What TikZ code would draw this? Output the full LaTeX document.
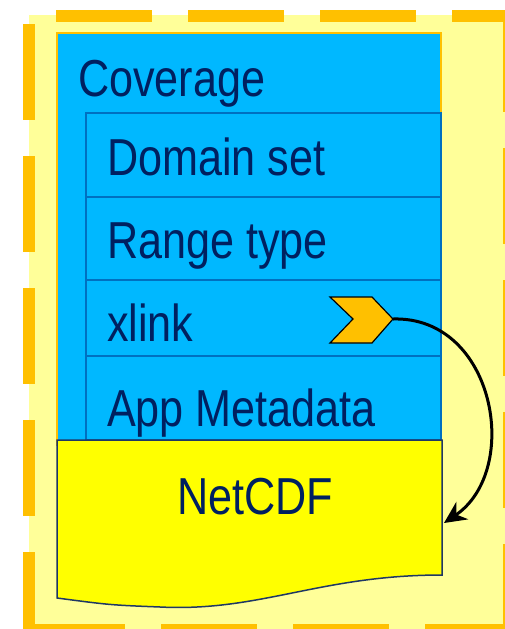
\documentclass[tikz,border=0pt]{standalone}
\usepackage{fontspec}
\setmainfont{Liberation Sans}
\usetikzlibrary{arrows.meta}
\definecolor{lightyel}{HTML}{FFFF99}
\definecolor{gold}{HTML}{FFC000}
\definecolor{bluefill}{HTML}{00B8FF}
\definecolor{rowline}{HTML}{0070C0}
\definecolor{navy}{HTML}{002060}
\definecolor{docyel}{HTML}{FFFF00}
\definecolor{docline}{HTML}{1F3864}
\newcommand\sqz[1]{\scalebox{0.83}[1]{#1}}
\tikzset{
  frameline/.style={draw=gold, line width=12pt, dash pattern=on 96pt off 36pt},
  coverbox/.style={fill=bluefill, draw=gold, line width=1.5pt},
  rowbox/.style={fill=bluefill, draw=rowline, line width=1.2pt},
  lbl/.style={font=\fontsize{52}{60}\selectfont, text=navy, inner sep=0pt, anchor=base west},
  doc/.style={fill=docyel, draw=docline, line width=1.5pt},
  chev/.style={fill=gold, draw=black, line width=1.2pt, line join=miter},
  link/.style={draw=black, line width=3pt, -{Stealth[length=22pt,width=21pt,inset=7pt]}}
}
\begin{document}
\begin{tikzpicture}[x=1pt,y=-1pt]
\useasboundingbox (0,0) rectangle (504,629);
% background frame
\fill[lightyel] (29,15) rectangle (520,640);
\draw[frameline] (56,16) -- (600,16);
\draw[frameline] (29,24) -- (29,700);
\draw[frameline] (29,630) -- (600,630);
\draw[frameline] (509,16) -- (509,700);
% coverage box
\draw[coverbox] (57,33) rectangle (441,445);
\draw[rowbox] (86,113) rectangle (441,197);
\draw[rowbox] (86,197) rectangle (441,280);
\draw[rowbox] (86,280) rectangle (441,356);
\draw[rowbox] (86,356) rectangle (441,440);
% NetCDF document shape
\draw[doc] (57,440) -- (442,440) -- (442,575)
  .. controls (320,575) and (260,612) .. (160,607)
  .. controls (110,605) .. (57,598) -- cycle;
% texts
\node[lbl] (cov) at (78,96) {\sqz{Coverage}};
\node[lbl] (dom) at (107,175) {\sqz{Domain set}};
\node[lbl] (rng) at (107,258) {\sqz{Range type}};
\node[lbl] (xl) at (107,341) {\sqz{xlink}};
\node[lbl] (app) at (107,426) {\sqz{App Metadata}};
\node[lbl, anchor=base] (nc) at (255,514) {\sqz{NetCDF}};
% chevron
\draw[chev] (330,297) -- (372,297) -- (393,319) -- (372,343) -- (330,343) -- (353,319) -- cycle;
\coordinate (chevtip) at (393,319);
\coordinate (ncin) at (444,523);
\draw[link] (chevtip) .. controls (495,316) and (522,470) .. (ncin);
\end{tikzpicture}
\end{document}
